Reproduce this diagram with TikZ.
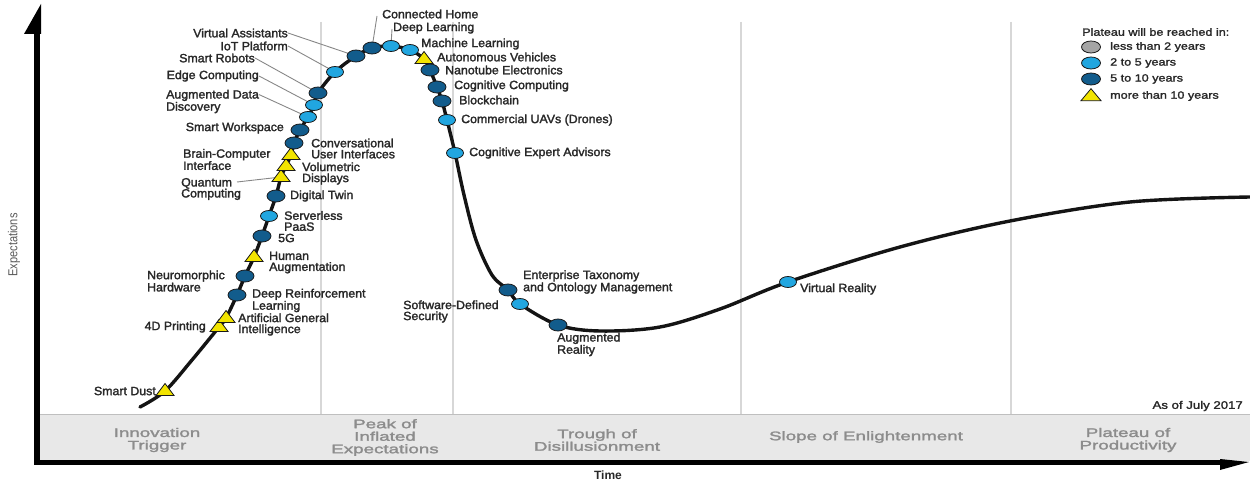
\documentclass[tikz,border=0pt]{standalone}
\usepackage{fontspec}
\setmainfont{Liberation Sans}
\newfontfamily\labfont{Liberation Sans}[FakeStretch=1.03,FakeBold=2]
\newfontfamily\legfont{Liberation Sans}[FakeStretch=1.2,FakeBold=1.8]
\newfontfamily\bandfont{Liberation Sans}[FakeStretch=1.5,FakeBold=2]
\newfontfamily\axfont{Liberation Sans}[FakeStretch=0.85]
\usetikzlibrary{shapes.geometric}
\definecolor{lblue}{RGB}{33,166,224}
\definecolor{dblue}{RGB}{18,92,140}
\definecolor{tyel}{RGB}{242,228,0}
\definecolor{lgray}{RGB}{165,165,165}
\definecolor{txt}{RGB}{40,40,40}
\definecolor{bandc}{RGB}{232,232,232}
\definecolor{bandtxt}{RGB}{140,140,140}
\definecolor{sepc}{RGB}{215,215,215}
\definecolor{leadc}{RGB}{135,135,135}
\tikzset{
  lab/.style={font=\labfont\fontsize{12}{11}\selectfont, text=txt, inner sep=0pt, align=left},
  band/.style={font=\bandfont\fontsize{12.5}{12.5}\selectfont, text=bandtxt, inner sep=0pt, align=center},
  leg/.style={font=\legfont\fontsize{10.5}{11}\selectfont, text=txt, inner sep=0pt, anchor=west},
  mk/.style={ellipse, draw=black!90, line width=0.8pt, minimum width=17pt, minimum height=11pt, inner sep=0pt},
  mkL/.style={mk, fill=lblue},
  mkD/.style={mk, fill=dblue, minimum width=18pt, minimum height=12pt},
  mkG/.style={mk, fill=lgray},
  mkT/.style={isosceles triangle, isosceles triangle stretches, shape border rotate=90, draw=black!90, line width=0.8pt, fill=tyel, minimum width=18pt, minimum height=12pt, inner sep=0pt},
  leader/.style={draw=leadc, line width=0.9pt},
  sepline/.style={draw=sepc, line width=1.4pt},
}
\begin{document}
\begin{tikzpicture}[x=1pt,y=-1pt]
\useasboundingbox (0,0) rectangle (1250,481);
% separators
\foreach \xx in {321,453,741,1011} \draw[sepline] (\xx,22) -- (\xx,414);
% band
\fill[bandc] (37,414) rectangle (1250,461);
\draw[draw=black!25, line width=0.8pt] (37,414) -- (1250,414);
% axes
\fill[black] (34,30) rectangle (40,464);
\fill[black] (41,4) -- (24,34) -- (41,34) -- cycle;
\fill[black] (34,460) rectangle (1228,465);
\fill[black] (1220,459) -- (1249,462) -- (1220,470) -- cycle;
% axis labels
\node[font=\axfont\fontsize{13}{13}\selectfont, text=black!65, rotate=90, inner sep=0pt] (ylab) at (14,245) {Expectations};
\node[font=\bfseries\fontsize{12}{12}\selectfont, text=txt, inner sep=0pt] (xlab) at (608,475) {Time};
% band labels
\node[band] (ph1) at (157,440) {Innovation\\Trigger};
\node[band] (ph2) at (385,437.5) {Peak of\\Inflated\\Expectations};
\node[band] (ph3) at (597,440) {Trough of\\Disillusionment};
\node[band] (ph4) at (866,437) {Slope of Enlightenment};
\node[band] (ph5) at (1128,440) {Plateau of\\Productivity};
\node[leg, font=\legfont\fontsize{11}{11}\selectfont, anchor=east] (asof) at (1243,406) {As of July 2017};
% curve
\draw[line width=3.4pt, black!92, line cap=round] plot[smooth, tension=0.55] coordinates {
(140,407) (165,391) (192,360) (219,327) (226,318) (237,295) (245,276) (254,257) (262,236)
(269,216) (276,196) (281,177) (286,166) (291,155) (294,143) (300,130) (308,117) (314,105)
(318,93) (335,72) (356,56) (372,48) (391,46) (410,50) (424,59) (430,70) (437,87) (442,101)
(447,120) (455,153) (464,195) (476,240) (492,275) (508,290) (520,304) (558,325) (600,331)
(660,327) (720,309) (788,282) (900,247) (1010,221) (1130,202) (1250,197)};
% labels
\node[lab, anchor=east] (l-sd) at (156,391) {Smart Dust};
\node[lab, anchor=east] (l-p4) at (206,327) {4D Printing};
\node[lab, anchor=west] (l-agi) at (238,324.5) {Artificial General\\Intelligence};
\node[lab, anchor=west] (l-drl) at (252,300.5) {Deep Reinforcement\\Learning};
\node[lab, anchor=west] (l-nh) at (147,281) {Neuromorphic\\Hardware};
\node[lab, anchor=west] (l-ha) at (269,262.5) {Human\\Augmentation};
\node[lab, anchor=west] (l-g5) at (278,238) {5G};
\node[lab, anchor=west] (l-sp) at (284,221) {Serverless\\PaaS};
\node[lab, anchor=west] (l-dt) at (290,196) {Digital Twin};
\node[lab, anchor=west] (l-qc) at (181,189) {Quantum\\Computing};
\node[lab, anchor=west] (l-vd) at (302,173.5) {Volumetric\\Displays};
\node[lab, anchor=west] (l-bci) at (183,159.5) {Brain-Computer\\Interface};
\node[lab, anchor=west] (l-cui) at (311,148.5) {Conversational\\User Interfaces};
\node[lab, anchor=east] (l-sw) at (284,128) {Smart Workspace};
\node[lab, anchor=west] (l-add) at (166,101.5) {Augmented Data\\Discovery};
\node[lab, anchor=east] (l-ec) at (259,76) {Edge Computing};
\node[lab, anchor=east] (l-sr) at (255,58) {Smart Robots};
\node[lab, anchor=east] (l-iot) at (288,46) {IoT Platform};
\node[lab, anchor=east] (l-va) at (288,33) {Virtual Assistants};
\node[lab, anchor=west] (l-ch) at (382,14) {Connected Home};
\node[lab, anchor=west] (l-dl) at (393,28) {Deep Learning};
\node[lab, anchor=west] (l-ml) at (421,44) {Machine Learning};
\node[lab, anchor=west] (l-av) at (437,57) {Autonomous Vehicles};
\node[lab, anchor=west] (l-ne) at (445,70) {Nanotube Electronics};
\node[lab, anchor=west] (l-cc) at (454,86) {Cognitive Computing};
\node[lab, anchor=west] (l-bc) at (459,100) {Blockchain};
\node[lab, anchor=west] (l-uav) at (461,120) {Commercial UAVs (Drones)};
\node[lab, anchor=west] (l-cea) at (469,153) {Cognitive Expert Advisors};
\node[lab, anchor=west] (l-eto) at (523,282) {Enterprise Taxonomy\\and Ontology Management};
\node[lab, anchor=west] (l-sds) at (403,311.5) {Software-Defined\\Security};
\node[lab, anchor=west] (l-ar) at (557,344.5) {Augmented\\Reality};
\node[lab, anchor=west] (l-vr) at (800,289) {Virtual Reality};
% leader end points
\coordinate (c-qc) at (237,182);
\path (356,56) coordinate (p-va) (335,72) coordinate (p-iot) (318,93) coordinate (p-sr)
      (314,105) coordinate (p-ec) (308,117) coordinate (p-add) (372,48) coordinate (p-ch)
      (391,46) coordinate (p-dl) (281,177) coordinate (p-qc);
\draw[leader] (l-va.east) -- (p-va);
\draw[leader] (l-iot.east) -- (p-iot);
\draw[leader] (l-sr.east) -- (p-sr);
\draw[leader] (l-ec.east) -- (p-ec);
\draw[leader] ([yshift=-5pt]l-add.north east) -- (p-add);
\draw[leader] ([xshift=-5pt,yshift=-2pt]l-ch.west) -- (p-ch);
\draw[leader] ([xshift=-1pt,yshift=-1pt]l-dl.west) -- (p-dl);
\draw[leader] (c-qc) -- (p-qc);
% markers
\node[mkT] (m-sd) at (165,391) {};
\node[mkT] (m-p4) at (219,327) {};
\node[mkT] (m-agi) at (226,318) {};
\node[mkD] (m-drl) at (237,295) {};
\node[mkD] (m-nh) at (245,276) {};
\node[mkT] (m-ha) at (254,257) {};
\node[mkD] (m-g5) at (262,236) {};
\node[mkL] (m-sp) at (269,216) {};
\node[mkD] (m-dt) at (276,196) {};
\node[mkT] (m-qc) at (281,177) {};
\node[mkT] (m-vd) at (286,166) {};
\node[mkT] (m-bci) at (291,155) {};
\node[mkD] (m-cui) at (294,143) {};
\node[mkD] (m-sw) at (300,130) {};
\node[mkL] (m-add) at (308,117) {};
\node[mkL] (m-ec) at (314,105) {};
\node[mkD] (m-sr) at (318,93) {};
\node[mkL] (m-iot) at (335,72) {};
\node[mkD] (m-va) at (356,56) {};
\node[mkD] (m-ch) at (372,48) {};
\node[mkL] (m-dl) at (391,46) {};
\node[mkL] (m-ml) at (410,50) {};
\node[mkT] (m-av) at (424,59) {};
\node[mkD] (m-ne) at (430,70) {};
\node[mkD] (m-cc) at (437,87) {};
\node[mkD] (m-bc) at (442,101) {};
\node[mkL] (m-uav) at (447,120) {};
\node[mkL] (m-cea) at (455,153) {};
\node[mkD] (m-eto) at (508,290) {};
\node[mkL] (m-sds) at (520,304) {};
\node[mkD] (m-ar) at (558,325) {};
\node[mkL] (m-vr) at (788,282) {};
% legend
\node[leg] (lg-t) at (1082,32) {Plateau will be reached in:};
\node[mkG, minimum width=19pt, minimum height=12pt] (lg-m1) at (1091,47) {};
\node[mkL, minimum width=19pt, minimum height=12pt] (lg-m2) at (1091,63) {};
\node[mkD, minimum width=19pt, minimum height=12pt] (lg-m3) at (1091,79) {};
\node[mkT, minimum width=20pt] (lg-m4) at (1091,96) {};
\node[leg] (lg-1) at (1110,47) {less than 2 years};
\node[leg] (lg-2) at (1110,63) {2 to 5 years};
\node[leg] (lg-3) at (1110,79) {5 to 10 years};
\node[leg] (lg-4) at (1110,96) {more than 10 years};
\end{tikzpicture}
\end{document}
